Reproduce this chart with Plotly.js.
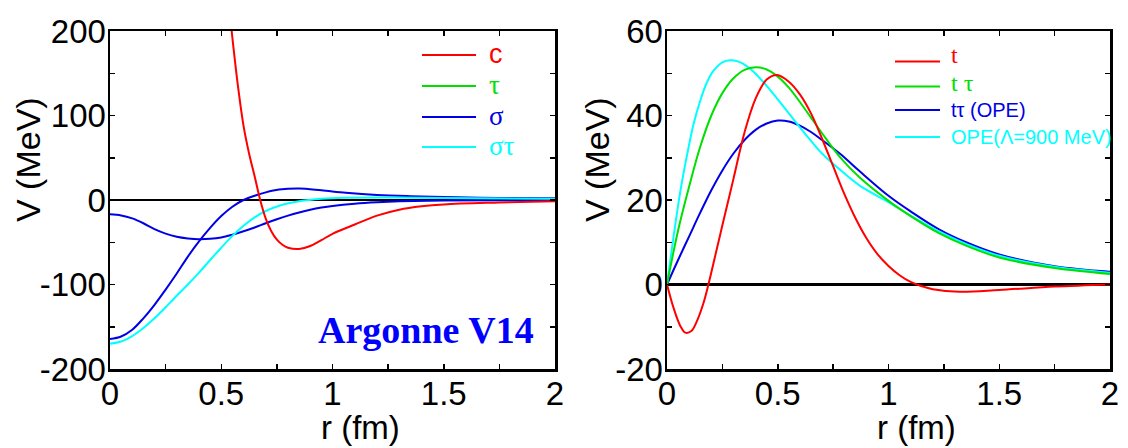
<!DOCTYPE html>
<html>
<head>
<meta charset="utf-8">
<script src="https://cdn.plot.ly/plotly-3.0.1.min.js"></script>
<style>html,body{margin:0;padding:0;background:#fff;}#chart{width:1128px;height:448px;}</style>
</head>
<body>
<div id="chart"></div>
<script>
// ---------- Left panel: Argonne V14 components ----------
const rC = [0.40, 0.45, 0.50, 0.525, 0.55, 0.575, 0.60, 0.625, 0.65, 0.675, 0.70, 0.725, 0.75, 0.775, 0.80, 0.85, 0.90, 0.95, 1.00, 1.10, 1.20, 1.30, 1.40, 1.50, 1.75, 2.00];
const vC = [900, 560, 330, 255, 192, 135, 88, 55, 28, 0, -22, -37, -47, -53, -56.5, -58, -54.5, -47.5, -40, -29, -18.5, -11.5, -7.5, -5.2, -3, -1.5];

const rSigma = [0, 0.05, 0.10, 0.15, 0.20, 0.25, 0.30, 0.35, 0.40, 0.45, 0.50, 0.55, 0.60, 0.65, 0.70, 0.76, 0.85, 0.95, 1.06, 1.20, 1.35, 1.50, 1.75, 2.00];
const vSigma = [-164.5, -161.5, -153.5, -140, -124, -106, -87, -67, -49, -33, -19, -8, 0, 5, 9, 12.3, 13.6, 11.5, 8.6, 6, 4.5, 3.5, 2.5, 2];

const rTau = [0, 0.05, 0.10, 0.15, 0.20, 0.25, 0.30, 0.35, 0.40, 0.45, 0.50, 0.55, 0.60, 0.65, 0.70, 0.75, 0.80, 0.85, 0.90, 0.95, 1.00, 1.10, 1.20, 1.30, 1.50, 2.00];
const vTau = [-17, -18.3, -21.8, -27.5, -34.5, -39.8, -43.5, -45.5, -46.5, -46, -44.3, -41, -37, -32.5, -27.5, -22.8, -18.5, -14.8, -11.6, -9, -7, -4.3, -2.6, -1.5, -0.5, 0];

const rSigmaTau = [0, 0.05, 0.10, 0.15, 0.20, 0.25, 0.29, 0.35, 0.40, 0.45, 0.50, 0.55, 0.60, 0.65, 0.70, 0.764, 0.85, 0.95, 1.06, 1.25, 1.50, 2.00];
const vSigmaTau = [-170, -167.5, -161, -151.5, -140, -127, -116, -100, -86, -71, -56.5, -42.5, -30.5, -20.5, -13, -6.5, -1.5, 1.5, 2.7, 3, 2.5, 1.5];

// ---------- Right panel: tensor components ----------
const rT = [0, 0.03, 0.06, 0.083, 0.11, 0.134, 0.164, 0.187, 0.224, 0.25, 0.30, 0.35, 0.40, 0.45, 0.497, 0.55, 0.60, 0.65, 0.70, 0.75, 0.80, 0.85, 0.90, 0.95, 1.00, 1.05, 1.10, 1.15, 1.20, 1.32, 1.50, 1.75, 2.00];
const vT = [0, -5.6, -9.8, -11.4, -11, -8.8, -4.5, 0, 8.2, 14, 25, 36, 44, 48.5, 49.6, 48, 45, 40.5, 34.5, 28, 21.5, 15.8, 11, 7.2, 4.4, 2.2, 0.6, -0.4, -1.1, -1.7, -1.3, -0.5, 0];

const rTTau = [0, 0.05, 0.10, 0.15, 0.20, 0.25, 0.30, 0.35, 0.40, 0.45, 0.50, 0.55, 0.60, 0.65, 0.70, 0.78, 0.87, 1.00, 1.10, 1.23, 1.35, 1.50, 1.75, 2.00];
const vTTau = [0, 12.8, 23.2, 32.6, 40, 45.3, 48.8, 50.8, 51.4, 50.9, 49.2, 46.6, 43.2, 39.5, 35.8, 30.2, 25.3, 19.8, 16.2, 12.1, 9.2, 6.4, 3.9, 2.5];

const rOPE = [0, 0.05, 0.10, 0.15, 0.20, 0.25, 0.30, 0.35, 0.40, 0.45, 0.50, 0.55, 0.60, 0.65, 0.70, 0.78, 0.87, 1.00, 1.10, 1.23, 1.35, 1.50, 1.75, 2.00];
const vOPE = [0, 5.8, 11.4, 17, 22.3, 27, 31, 34.2, 36.6, 38.1, 38.8, 38.6, 37.6, 36.1, 34.2, 31, 26.8, 21, 17.3, 13, 10, 7.1, 4.3, 3];

const rOPEcut = [0, 0.03, 0.06, 0.09, 0.12, 0.15, 0.18, 0.21, 0.25, 0.284, 0.32, 0.36, 0.40, 0.45, 0.50, 0.55, 0.60, 0.65, 0.70, 0.78, 0.87, 1.00, 1.10, 1.23, 1.35, 1.50, 1.75, 2.00];
const vOPEcut = [0, 11.5, 22, 30.5, 38, 43.5, 47.8, 50.6, 52.6, 53.1, 52.8, 51.7, 49.9, 47, 43.8, 40.5, 37.2, 34, 31, 27.2, 23.4, 19.5, 16.3, 12.5, 9.6, 6.8, 4.2, 2.8];

// ---------- Tick labels, titles & legend labels ----------
const xTickVals = [0, 0.5, 1, 1.5, 2];
const xTickText = ['0', '0.5', '1', '1.5', '2'];
const yLeftVals = [-200, -100, 0, 100, 200];
const yLeftText = ['-200', '-100', '0', '100', '200'];
const yRightVals = [-20, 0, 20, 40, 60];
const yRightText = ['-20', '0', '20', '40', '60'];
const xTitle = 'r (fm)';
const yTitle = 'V (MeV)';
const leftLabels = ['c', 'τ', 'σ', 'στ'];
const rightLabels = ['t', 't τ', 'tτ (OPE)', 'OPE(Λ=900 MeV)'];
const panelNote = 'Argonne V14';

const RED = '#ff0000', GREEN = '#00e000', BLUE = '#0000e6', CYAN = '#00ffff';
const FONT = 'Liberation Sans, Arial, sans-serif';
const SERIF = 'Liberation Serif, Times New Roman, serif';

function line(x, y, color, name, xa, ya) {
  return {x: x, y: y, type: 'scatter', mode: 'lines', name: name, xaxis: xa, yaxis: ya,
          line: {color: color, width: 2, shape: 'spline', smoothing: 1}, showlegend: false, hoverinfo: 'skip'};
}

const traces = [
  line(rTau, vTau, BLUE, leftLabels[1], 'x', 'y'),
  line(rSigma, vSigma, BLUE, leftLabels[2], 'x', 'y'),
  line(rSigmaTau, vSigmaTau, CYAN, leftLabels[3], 'x', 'y'),
  line(rC, vC, RED, leftLabels[0], 'x', 'y'),
  line(rOPE, vOPE, BLUE, rightLabels[2], 'x2', 'y2'),
  line(rOPEcut, vOPEcut, CYAN, rightLabels[3], 'x2', 'y2'),
  line(rTTau, vTTau, GREEN, rightLabels[1], 'x2', 'y2'),
  line(rT, vT, RED, rightLabels[0], 'x2', 'y2')
];

function xAxis(domain, anchor) {
  return {domain: domain, anchor: anchor, range: [0, 2], tickmode: 'array', tickvals: xTickVals, ticktext: xTickText,
    ticks: 'inside', ticklen: 5, tickwidth: 1.5, tickcolor: '#000',
    minor: {dtick: 0.25, tick0: 0, ticks: 'inside', ticklen: 5, tickwidth: 1.5, tickcolor: '#000'},
    showline: true, linewidth: 2.5, linecolor: '#000', mirror: 'ticks', showgrid: false, zeroline: false,
    tickfont: {family: FONT, size: 33, color: '#000'}, ticklabelstandoff: -6,
    automargin: false, fixedrange: true};
}
function yAxis(range, vals, text, minorStep, anchor) {
  return {range: range, anchor: anchor, tickmode: 'array', tickvals: vals, ticktext: text,
    ticks: 'inside', ticklen: 5, tickwidth: 1.5, tickcolor: '#000',
    minor: {dtick: minorStep, tick0: 0, ticks: 'inside', ticklen: 5, tickwidth: 1.5, tickcolor: '#000'},
    showline: true, linewidth: 2.5, linecolor: '#000', mirror: 'ticks', showgrid: false,
    zeroline: true, zerolinecolor: '#000', zerolinewidth: 2.5,
    tickfont: {family: FONT, size: 33, color: '#000'}, ticklabelstandoff: -5,
    automargin: false, fixedrange: true};
}

// paper-pixel helpers
const W = 1128, H = 448, T = 31, PH = 338;
function px(x) { return x / W; }
function py(y) { return 1 - (y - T) / PH; }
const shapes = [];
const annotations = [];
function sample(x0, x1, y, color) {
  shapes.push({type: 'line', xref: 'paper', yref: 'paper', x0: px(x0), x1: px(x1), y0: py(y), y1: py(y), line: {color: color, width: 2}});
}
function label(x, y, txt, color, size, family, angle) {
  annotations.push({xref: 'paper', yref: 'paper', x: px(x), y: py(y), xanchor: angle ? 'center' : 'left', yanchor: 'middle',
    showarrow: false, textangle: angle || 0, text: txt, font: {family: family, size: size, color: color}, borderpad: 0});
}

// axis titles
label(28, 160, yTitle, '#000', 34, FONT, -90);
label(597, 160, yTitle, '#000', 34, FONT, -90);
annotations.push({xref: 'paper', yref: 'paper', x: px(360), y: py(428), xanchor: 'center', yanchor: 'middle', showarrow: false,
  text: xTitle, font: {family: FONT, size: 33, color: '#000'}, borderpad: 0});
annotations.push({xref: 'paper', yref: 'paper', x: px(916), y: py(428), xanchor: 'center', yanchor: 'middle', showarrow: false,
  text: xTitle, font: {family: FONT, size: 33, color: '#000'}, borderpad: 0});

// legends
const leftRowsY = [55, 86, 117, 147];
const leftColors = [RED, GREEN, BLUE, CYAN];
const leftFonts = [FONT, SERIF, SERIF, SERIF];
leftRowsY.forEach((y, i) => { sample(422, 476, y, leftColors[i]); label(488, y - 1, leftLabels[i], leftColors[i], 27, leftFonts[i]); });

const rightRowsY = [61.5, 86.5, 110, 137];
const rightColors = [RED, GREEN, BLUE, CYAN];
const rightFonts = [SERIF, SERIF, FONT, FONT];
const rightSizes = [24, 24, 20, 20];
const rightDy = [-6, -4, 0, 0];
rightRowsY.forEach((y, i) => { sample(895, 940, y, rightColors[i]); label(950, y + rightDy[i], rightLabels[i], rightColors[i], rightSizes[i], rightFonts[i]); });

annotations.push({xref: 'paper', yref: 'paper', x: px(426), y: py(330), xanchor: 'center', yanchor: 'middle', showarrow: false,
  text: '<b>' + panelNote + '</b>', font: {family: SERIF, size: 38, color: '#0000ff'}});

const layout = {
  width: W, height: H, autosize: false,
  margin: {l: 0, r: 0, t: T, b: H - T - PH, pad: 0},
  paper_bgcolor: '#fff', plot_bgcolor: '#fff', showlegend: false,
  xaxis: xAxis([110 / W, 555 / W], 'y'),
  yaxis: yAxis([-200, 200], yLeftVals, yLeftText, 50, 'x'),
  xaxis2: xAxis([667 / W, 1110 / W], 'y2'),
  yaxis2: yAxis([-20, 60], yRightVals, yRightText, 10, 'x2'),
  shapes: shapes, annotations: annotations
};

Plotly.newPlot('chart', traces, layout, {staticPlot: true, displayModeBar: false});
</script>
</body>
</html>
